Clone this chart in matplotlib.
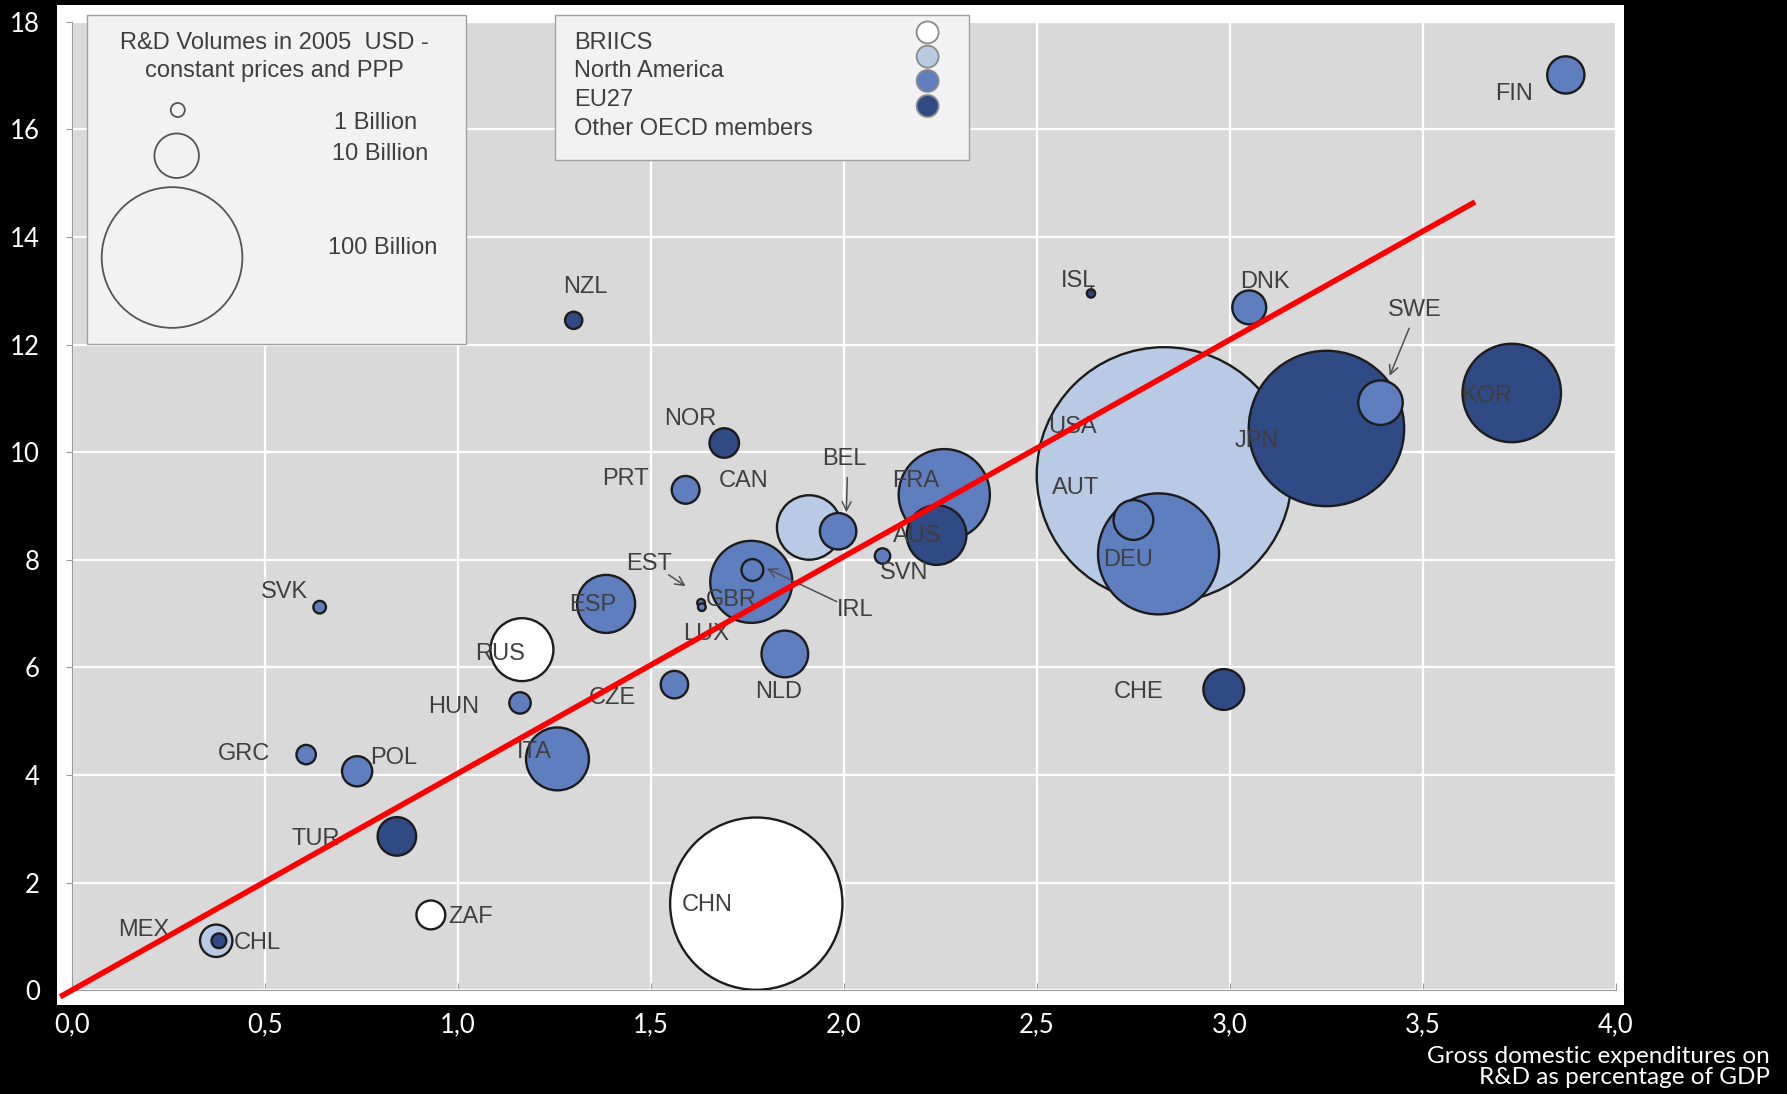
import matplotlib
matplotlib.use('Agg')
import matplotlib.pyplot as plt
from matplotlib.patches import Rectangle

# R&D intensity (x) vs researchers (y), bubble area = R&D volume in billion USD
countries = ['FIN', 'DNK', 'ISL', 'NZL', 'SWE', 'KOR', 'JPN', 'USA', 'DEU', 'AUT',
             'NOR', 'PRT', 'CAN', 'BEL', 'FRA', 'AUS', 'SVN', 'GBR', 'IRL', 'EST',
             'LUX', 'ESP', 'SVK', 'RUS', 'NLD', 'CZE', 'HUN', 'CHE', 'GRC', 'POL',
             'ITA', 'TUR', 'ZAF', 'CHN', 'MEX', 'CHL']
gerd_pct = [3.87, 3.05, 2.64, 1.30, 3.39, 3.73, 3.25, 2.83, 2.815, 2.75,
            1.69, 1.59, 1.91, 1.985, 2.26, 2.24, 2.10, 1.76, 1.763, 1.63,
            1.632, 1.384, 0.642, 1.166, 1.847, 1.561, 1.161, 2.984, 0.607, 0.739,
            1.258, 0.842, 0.93, 1.773, 0.374, 0.381]
researchers = [17.01, 12.69, 12.95, 12.45, 10.92, 11.10, 10.44, 9.58, 8.11, 8.74,
               10.17, 9.30, 8.60, 8.53, 9.21, 8.46, 8.07, 7.59, 7.81, 7.20,
               7.12, 7.18, 7.12, 6.33, 6.25, 5.68, 5.34, 5.59, 4.38, 4.07,
               4.30, 2.86, 1.40, 1.61, 0.92, 0.92]
volume_bn = [7.0, 5.8, 0.35, 1.5, 10, 49, 122, 329, 74, 8,
             4.4, 3.9, 21, 6.7, 42, 18, 1.2, 34, 2.4, 0.3,
             0.3, 17, 0.8, 20, 11, 3.8, 2.3, 8.4, 1.9, 4.6,
             20, 7.5, 4.2, 150, 5.3, 1.1]
group = ['EU27', 'EU27', 'OTH', 'OTH', 'EU27', 'OTH', 'OTH', 'NA', 'EU27', 'EU27',
         'OTH', 'EU27', 'NA', 'EU27', 'EU27', 'OTH', 'EU27', 'EU27', 'EU27', 'EU27',
         'EU27', 'EU27', 'EU27', 'BRIICS', 'EU27', 'EU27', 'EU27', 'OTH', 'EU27', 'EU27',
         'EU27', 'OTH', 'BRIICS', 'BRIICS', 'NA', 'OTH']

group_names = ['BRIICS', 'North America', 'EU27', 'Other OECD members']
group_keys = ['BRIICS', 'NA', 'EU27', 'OTH']
group_colors = {'BRIICS': '#ffffff', 'NA': '#b9cae4', 'EU27': '#5f7ec0', 'OTH': '#2f4a84'}

size_legend_bn = [1, 10, 100]
size_legend_labels = ['1 Billion', '10 Billion', '100 Billion']

trend_x = [-0.03, 3.635]
trend_y = [-0.12, 14.65]

x_ticks = [0, 0.5, 1.0, 1.5, 2.0, 2.5, 3.0, 3.5, 4.0]
x_tick_labels = ['0,0', '0,5', '1,0', '1,5', '2,0', '2,5', '3,0', '3,5', '4,0']
y_ticks = [0, 2, 4, 6, 8, 10, 12, 14, 16, 18]

# label placement (data coords)
label_pos = {
    'FIN': (3.735, 16.65), 'DNK': (3.09, 13.17), 'ISL': (2.607, 13.19), 'NZL': (1.331, 13.07),
    'SWE': (3.479, 12.64), 'KOR': (3.664, 11.05), 'JPN': (3.069, 10.21), 'USA': (2.592, 10.46),
    'AUT': (2.601, 9.34), 'DEU': (2.736, 8.0), 'NOR': (1.602, 10.61), 'PRT': (1.434, 9.51),
    'CAN': (1.741, 9.47), 'BEL': (2.0, 9.87), 'FRA': (2.186, 9.47), 'AUS': (2.191, 8.45),
    'SVN': (2.156, 7.75), 'GBR': (1.708, 7.26), 'IRL': (2.029, 7.07), 'EST': (1.496, 7.92),
    'LUX': (1.644, 6.63), 'ESP': (1.349, 7.16), 'SVK': (0.551, 7.41), 'RUS': (1.110, 6.25),
    'NLD': (1.832, 5.55), 'CZE': (1.399, 5.44), 'HUN': (0.99, 5.27), 'CHE': (2.763, 5.55),
    'GRC': (0.445, 4.40), 'POL': (0.834, 4.32), 'ITA': (1.199, 4.43), 'TUR': (0.633, 2.82),
    'ZAF': (1.034, 1.36), 'CHN': (1.647, 1.59), 'MEX': (0.186, 1.12), 'CHL': (0.480, 0.87),
}
arrows = [
    ((2.009, 9.58), (2.006, 8.83)),   # BEL
    ((3.467, 12.35), (3.411, 11.37)),  # SWE
    ((1.540, 7.75), (1.596, 7.48)),   # EST
    ((1.988, 7.20), (1.794, 7.86)),   # IRL
]

label_font = ['Liberation Sans', 'DejaVu Sans']
tick_font = ['Lato', 'DejaVu Sans']
text_color = '#3f3f3f'
k_size = 102.6  # pt^2 per billion

fig = plt.figure(figsize=(17.87, 10.94), dpi=100, facecolor='black')
fig.patches.append(Rectangle((0.0319, 0.0813), 0.8769, 0.9145, transform=fig.transFigure,
                             facecolor='white', edgecolor='none', zorder=-1))
ax = fig.add_axes([0.0402, 0.0948, 0.8641, 0.8854])
ax.set_facecolor('#d9d9d9')
ax.set_xlim(0, 4)
ax.set_ylim(0, 18)
ax.set_xticks(x_ticks)
ax.set_xticklabels(x_tick_labels)
ax.set_yticks(y_ticks)
ax.set_yticklabels([str(v) for v in y_ticks])
ax.grid(color='white', lw=1.6)
ax.set_axisbelow(True)
for s in ['top', 'right']:
    ax.spines[s].set_visible(False)
for s in ['left', 'bottom']:
    ax.spines[s].set_color('#9a9a9a')
ax.tick_params(axis='y', direction='out', length=4, color='#9a9a9a', labelcolor='white',
               labelsize=18.5, pad=19)
ax.tick_params(axis='x', direction='in', length=5, color='#9a9a9a', labelcolor='white',
               labelsize=18.5, pad=16)
for lab in ax.get_xticklabels() + ax.get_yticklabels():
    lab.set_family(tick_font)

# bubbles, largest first so small ones sit on top
order = sorted(range(len(countries)), key=lambda i: -volume_bn[i])
ax.scatter([gerd_pct[i] for i in order], [researchers[i] for i in order],
           s=[k_size * volume_bn[i] for i in order],
           c=[group_colors[group[i]] for i in order],
           edgecolors='#1c1c1c', linewidths=1.7, zorder=3)

for name, (lx, ly) in label_pos.items():
    ax.text(lx, ly, name, ha='center', va='center', fontsize=17, color=text_color,
            family=label_font, zorder=4)
for start, end in arrows:
    ax.annotate('', xy=end, xytext=start,
                arrowprops=dict(arrowstyle='->', color='#505050', lw=1.1, mutation_scale=16),
                zorder=4)
ax.plot([2.64, 2.64], [13.08, 12.98], color='#303030', lw=1, zorder=4)

ax.plot(trend_x, trend_y, color='#ff0000', lw=4, clip_on=False, zorder=6,
        solid_capstyle='butt')

# size legend box
ax.add_patch(Rectangle((0.00996, 0.667), 0.2454, 0.3401, transform=ax.transAxes,
                       facecolor='#f2f2f2', edgecolor='#a0a0a0', lw=1, clip_on=False, zorder=5))
ax.text(0.1312, 0.9776, 'R&D Volumes in 2005  USD -', transform=ax.transAxes, ha='center',
        va='center', fontsize=17, color=text_color, family=label_font, zorder=6)
ax.text(0.1312, 0.9494, 'constant prices and PPP', transform=ax.transAxes, ha='center',
        va='center', fontsize=17, color=text_color, family=label_font, zorder=6)
ax.scatter([0.0686, 0.0679, 0.0649], [0.9088, 0.8616, 0.7565],
           s=[k_size * v for v in size_legend_bn], transform=ax.transAxes,
           facecolors='none', edgecolors='#555555', linewidths=1.3, clip_on=False, zorder=6)
for lab, (tx, ty) in zip(size_legend_labels, [(0.197, 0.8958), (0.1996, 0.8635), (0.2015, 0.7659)]):
    ax.text(tx, ty, lab, transform=ax.transAxes, ha='center', va='center', fontsize=17,
            color=text_color, family=label_font, zorder=6)

# group legend box
ax.add_patch(Rectangle((0.3129, 0.8576), 0.2679, 0.1495, transform=ax.transAxes,
                       facecolor='#f2f2f2', edgecolor='#a0a0a0', lw=1, clip_on=False, zorder=5))
for name, ty in zip(group_names, [0.9784, 0.9490, 0.9191, 0.8888]):
    ax.text(0.3255, ty, name, transform=ax.transAxes, ha='left', va='center', fontsize=17,
            color=text_color, family=label_font, zorder=6)
ax.scatter([0.5542] * 4, [0.9889, 0.9639, 0.9388, 0.9129], s=250, transform=ax.transAxes,
           c=[group_colors[g] for g in group_keys], edgecolors='#8a8a8a', linewidths=1.3,
           clip_on=False, zorder=6)

fig.text(0.9904, 0.0245, 'Gross domestic expenditures on\nR&D as percentage of GDP',
         ha='right', va='center', color='white', fontsize=17.5, family=tick_font, linespacing=1.0)

fig.savefig('out.png', dpi=100, facecolor='black')
